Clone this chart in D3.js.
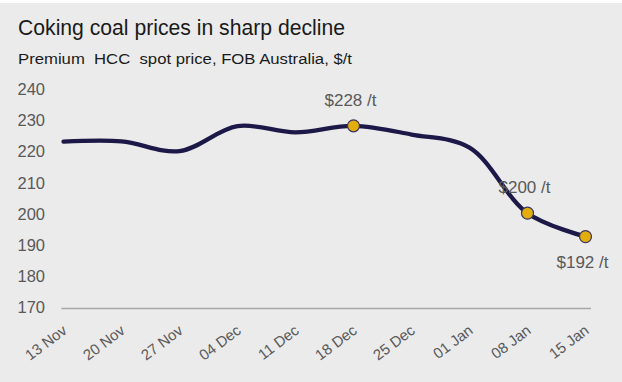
<!DOCTYPE html>
<html><head><meta charset="utf-8">
<script src="https://cdn.jsdelivr.net/npm/d3@7"></script>
<style>html,body{margin:0;padding:0;background:#fff;}svg{display:block;}</style>
</head><body>
<script>
const dates = ["13 Nov","20 Nov","27 Nov","04 Dec","11 Dec","18 Dec","25 Dec","01 Jan","08 Jan","15 Jan"];
const prices = [223.2, 223.3, 220.2, 228.2, 226.2, 228.3, 225.5, 221.3, 200.3, 192.8];
const yTicks = [170,180,190,200,210,220,230,240];
const callouts = [
  {date:"18 Dec", label:"$228 /t", pos:"above"},
  {date:"08 Jan", label:"$200 /t", pos:"above"},
  {date:"15 Jan", label:"$192 /t", pos:"below"}
];
const title = "Coking coal prices in sharp decline";
const subtitle = "Premium  HCC  spot price, FOB Australia, $/t";

const W = 622, H = 382;
const svg = d3.select("body").append("svg").attr("width", W).attr("height", H);
svg.append("rect").attr("width", W).attr("height", H).attr("fill", "#ffffff");
svg.append("rect").attr("x", 0).attr("y", 3).attr("width", W).attr("height", H-3).attr("fill", "#ebebeb");

const font = "'Liberation Sans', Arial, sans-serif";
svg.append("text").attr("x", 18).attr("y", 35).text(title)
  .attr("font-family", font).attr("font-size", 22).attr("fill", "#1a1a1a")
  .attr("textLength", 327).attr("lengthAdjust", "spacingAndGlyphs");
svg.append("text").attr("x", 18).attr("y", 64).text(subtitle)
  .style("white-space", "pre")
  .attr("font-family", font).attr("font-size", 15.5).attr("fill", "#1a1a1a")
  .attr("textLength", 334).attr("lengthAdjust", "spacingAndGlyphs");

const x = d3.scalePoint().domain(dates).range([63.5, 585.5]);
const y = d3.scaleLinear().domain([170, 240]).range([307.7, 89.3]);

// y axis labels
const yAxis = d3.axisLeft(y).tickValues(yTicks).tickSize(0).tickPadding(0);
const yg = svg.append("g").attr("transform", "translate(45,0)").call(yAxis);
yg.select(".domain").remove();
yg.selectAll("text").attr("font-family", font).attr("font-size", 16.5).attr("fill", "#595959");

// x axis
const xAxis = d3.axisBottom(x).tickSize(0).tickPadding(0);
const xg = svg.append("g").attr("transform", "translate(0,308.5)").call(xAxis);
xg.select(".domain").remove();
svg.append("line").attr("x1", 61.5).attr("x2", 591).attr("y1", 308.5).attr("y2", 308.5)
  .attr("stroke", "#a6a6a6").attr("stroke-width", 1.5);
xg.selectAll(".tick text")
  .attr("font-family", font).attr("font-size", 15).attr("fill", "#595959")
  .attr("text-anchor", "end").attr("dy", null).attr("y", null)
  .attr("transform", "translate(4,24) rotate(-37)");

// line
const data = dates.map((d,i)=>({d, v: prices[i]}));
const line = d3.line().x(p=>x(p.d)).y(p=>y(p.v)).curve(d3.curveCatmullRom.alpha(0.5));
svg.append("path").datum(data).attr("d", line).attr("fill", "none")
  .attr("stroke", "#1c1848").attr("stroke-width", 4.3).attr("stroke-linecap", "round");

// markers and callouts
callouts.forEach(c => {
  const v = prices[dates.indexOf(c.date)];
  svg.append("circle").attr("cx", x(c.date)).attr("cy", y(v)).attr("r", 6)
    .attr("fill", "#e3ad0c").attr("stroke", "#3a3560").attr("stroke-width", 1.2);
  svg.append("text").attr("x", x(c.date) - 3)
    .attr("y", c.pos === "above" ? y(v) - 20 : y(v) + 31)
    .attr("text-anchor", "middle").text(c.label)
    .attr("font-family", font).attr("font-size", 17).attr("fill", "#595959");
});
</script>
</body></html>
